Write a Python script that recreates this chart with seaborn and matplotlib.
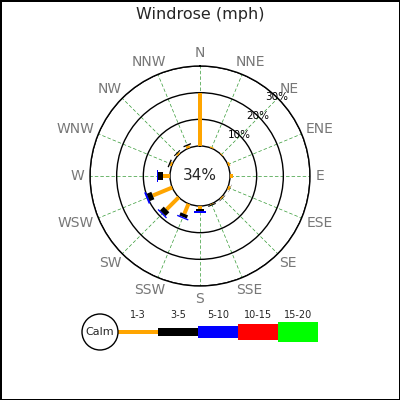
import numpy as np
import matplotlib
matplotlib.use('Agg')
import matplotlib.pyplot as plt
import seaborn as sns
from matplotlib.patches import Circle

# данные
directions = ['N', 'NNE', 'NE', 'ENE', 'E', 'ESE', 'SE', 'SSE',
              'S', 'SSW', 'SW', 'WSW', 'W', 'WNW', 'NW', 'NNW']
bins = ['1-3', '3-5', '5-10', '10-15', '15-20']
spd_1_3 = [20.0, 0.5, 0.3, 0.8, 1.0, 0.9, 0.5, 0.3, 1.1, 4.1, 6.5, 7.9, 2.7, 0.8, 0.7, 1.0]
spd_3_5 = [0.4, 0.0, 0.0, 0.0, 0.0, 0.1, 0.2, 0.4, 0.9, 1.3, 2.0, 1.9, 1.8, 0.5, 0.4, 0.5]
spd_5_10 = [0.0, 0.0, 0.0, 0.0, 0.0, 0.0, 0.0, 0.0, 0.5, 0.5, 0.5, 0.7, 0.5, 0.0, 0.0, 0.0]
spd_10_15 = [0.0] * 16
spd_15_20 = [0.0] * 16
calm = 34
rings = [10, 20, 30]

colors = ['orange', 'black', 'blue', 'red', 'lime']
widths_px = [4, 8, 12, 16, 20]
widths = [w * 0.72 for w in widths_px]

sns.set_theme(style='white')
plt.rcParams['font.family'] = ['DejaVu Sans']

fig = plt.figure(figsize=(4, 4), dpi=100)
fig.patch.set_facecolor('white')
fig.patch.set_edgecolor('black')
fig.patch.set_linewidth(2)

fig.text(0.5, 1 - 14 / 400, 'Windrose (mph)', ha='center', va='center', fontsize=11.5)

# роза ветров
ax = fig.add_axes([0.225, 0.285, 0.55, 0.55], projection='polar')
ax.set_theta_zero_location('N')
ax.set_theta_direction(-1)
ax.set_rorigin(-11.25)
ax.set_ylim(0, 30)

theta = np.deg2rad(np.arange(16) * 22.5)
ax.set_xticks(theta)
ax.set_xticklabels([])
ax.xaxis.grid(True, color='green', linestyle=(0, (5, 3)), linewidth=0.5, alpha=0.8)
ax.set_yticks(rings)
ax.set_yticklabels([])
ax.yaxis.grid(True, color='black', linestyle='-', linewidth=1)
for sp in ax.spines.values():
    sp.set_color('black')
    sp.set_linewidth(1)

series = [spd_1_3, spd_3_5, spd_5_10, spd_10_15, spd_15_20]
for i, th in enumerate(theta):
    base = 0.0
    for k, vals in enumerate(series):
        v = vals[i]
        if v <= 0:
            continue
        ax.plot([th, th], [base, base + v], color=colors[k], linewidth=widths[k],
                solid_capstyle='butt', zorder=3 + k)
        base += v

# подписи направлений: ставим край текста на окружность
labels = []
for i, lab in enumerate(directions):
    t = ax.annotate(lab, xy=(theta[i], 32.25), xytext=(0, 0), textcoords='offset points',
                    ha='center', va='center', fontsize=10, color='#777777',
                    annotation_clip=False)
    labels.append(t)
fig.canvas.draw()
rend = fig.canvas.get_renderer()
for i, t in enumerate(labels):
    bb = t.get_window_extent(rend)
    dx = bb.width / 2 * np.sin(theta[i]) * 0.72
    dy = bb.height / 2 * np.cos(theta[i]) * 0.72
    t.xyann = (dx, dy)

for r in rings:
    ax.text(np.deg2rad(44), r, '%d%%' % r, ha='center', va='center', fontsize=7.5,
            color='black', zorder=10)

ax.text(0.5, 0.5, '%d%%' % calm, transform=ax.transAxes, ha='center', va='center',
        fontsize=11)

# легенда
lax = fig.add_axes([0, 0, 1, 1])
lax.set_xlim(0, 400)
lax.set_ylim(400, 0)
lax.axis('off')
lax.patch.set_alpha(0)
lax.add_patch(Circle((100, 332), 18, facecolor='white', edgecolor='black', linewidth=1, zorder=5))
lax.text(100, 332, 'Calm', ha='center', va='center', fontsize=8, zorder=6)
x0 = 118
for k, lab in enumerate(bins):
    lax.plot([x0 + 40 * k, x0 + 40 * (k + 1)], [332, 332], color=colors[k],
             linewidth=widths[k], solid_capstyle='butt')
    lax.text(x0 + 40 * k + 20, 315, lab, ha='center', va='center', fontsize=7)

fig.savefig('out.png', dpi=100, facecolor=fig.get_facecolor(), edgecolor=fig.get_edgecolor())
